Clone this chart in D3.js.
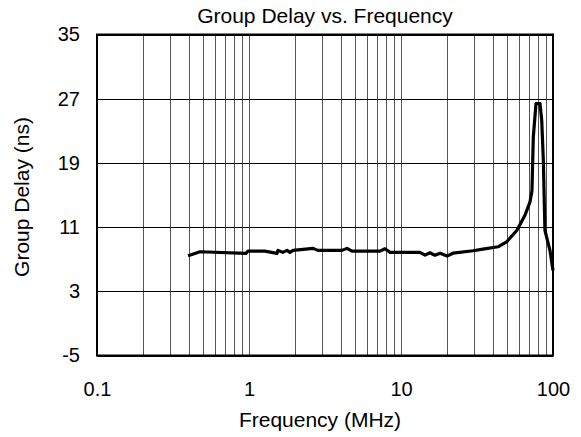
<!DOCTYPE html>
<html>
<head>
<meta charset="utf-8">
<script src="https://cdn.jsdelivr.net/npm/d3@7"></script>
<style>
  body { margin: 0; background: #fff; }
  text { font-family: "Liberation Sans", Arial, sans-serif; fill: #000; }
</style>
</head>
<body>
<script>
var width = 581,
    height = 437,
    margin = {top: 34.5, right: 28, bottom: 82, left: 97};

// frequency in MHz, group delay in ns
var freq  = [0.397, 0.477, 0.955, 0.985, 1.27, 1.53, 1.55, 1.67, 1.78, 1.86, 1.95, 2.64, 2.84,
             4.09, 4.41, 4.76, 7.28, 7.85, 8.47, 13.3, 14.4, 15.5, 16.7, 18.1, 19.5, 20.1, 22.0,
             29.8, 34.6, 43.5, 49.8, 57.9, 65.5, 70.6, 72.7, 74.2, 77.3, 82.1, 84.3, 86.4, 88.5,
             95.5, 100];
var delay = [7.43, 7.93, 7.73, 8.0, 8.0, 7.73, 8.1, 7.85, 8.1, 7.85, 8.1, 8.35, 8.1,
             8.1, 8.35, 8.0, 8.0, 8.3, 7.85, 7.85, 7.5, 7.8, 7.5, 7.75, 7.5, 7.4, 7.75,
             8.05, 8.25, 8.55, 9.2, 10.6, 12.5, 14.15, 15.5, 22.2, 26.4, 26.4, 24.3, 19.3, 10.6,
             8.1, 5.6];
var xTicks = [0.1, 1, 10, 100],
    yTicks = [-5, 3, 11, 19, 27, 35];

var svg = d3.select("body").append("svg")
    .attr("width", width)
    .attr("height", height);

var x = d3.scaleLog().domain([0.1, 100]).range([margin.left, width - margin.right]),
    y = d3.scaleLinear().domain([-5, 35]).range([height - margin.bottom + 0.5, margin.top]);

// vertical grid: 1..9 of each decade
var minor = [];
[0.1, 1, 10].forEach(function(d) {
  for (var k = 1; k <= 9; k++) minor.push(d * k);
});
minor.push(100);

svg.append("g")
  .selectAll("line")
  .data(minor)
  .enter().append("line")
    .attr("x1", function(d) { return Math.round(x(d)) + 0.5; })
    .attr("x2", function(d) { return Math.round(x(d)) + 0.5; })
    .attr("y1", y(35))
    .attr("y2", y(-5))
    .attr("stroke", "#555")
    .attr("stroke-width", 1);

svg.append("g")
  .selectAll("line")
  .data(yTicks)
  .enter().append("line")
    .attr("x1", x(0.1))
    .attr("x2", x(100))
    .attr("y1", function(d) { return Math.round(y(d)) + 0.5; })
    .attr("y2", function(d) { return Math.round(y(d)) + 0.5; })
    .attr("stroke", "#000")
    .attr("stroke-width", 1);

// frame
svg.append("rect")
  .attr("x", x(0.1))
  .attr("y", y(35))
  .attr("width", x(100) - x(0.1))
  .attr("height", y(-5) - y(35))
  .attr("fill", "none")
  .attr("stroke", "#000")
  .attr("stroke-width", 2);

// data line
var line = d3.line()
  .x(function(d, i) { return x(freq[i]); })
  .y(function(d) { return y(d); });

svg.append("path")
  .datum(delay)
  .attr("d", line)
  .attr("fill", "none")
  .attr("stroke", "#000")
  .attr("stroke-width", 3.2)
  .attr("stroke-linejoin", "round");

// axes
var xAxis = svg.append("g")
  .attr("transform", "translate(0," + y(-5) + ")")
  .call(d3.axisBottom(x).tickValues(xTicks).tickFormat(function(d) { return String(d); })
    .tickSize(0).tickPadding(26));
xAxis.select(".domain").remove();
xAxis.selectAll("text").style("font-size", "20px");

var yAxis = svg.append("g")
  .attr("transform", "translate(" + x(0.1) + ",0)")
  .call(d3.axisLeft(y).tickValues(yTicks).tickFormat(function(d) { return String(d); })
    .tickSize(0).tickPadding(17));
yAxis.select(".domain").remove();
yAxis.selectAll("text").style("font-size", "20px");

// titles
svg.append("text")
  .attr("x", (x(0.1) + x(100)) / 2)
  .attr("y", 23)
  .attr("text-anchor", "middle")
  .style("font-size", "21px")
  .text("Group Delay vs. Frequency");

svg.append("text")
  .attr("x", 320)
  .attr("y", 427)
  .attr("text-anchor", "middle")
  .style("font-size", "21px")
  .text("Frequency (MHz)");

svg.append("text")
  .attr("transform", "translate(29,197)rotate(-90)")
  .attr("text-anchor", "middle")
  .style("font-size", "21px")
  .text("Group Delay (ns)");
</script>
</body>
</html>
